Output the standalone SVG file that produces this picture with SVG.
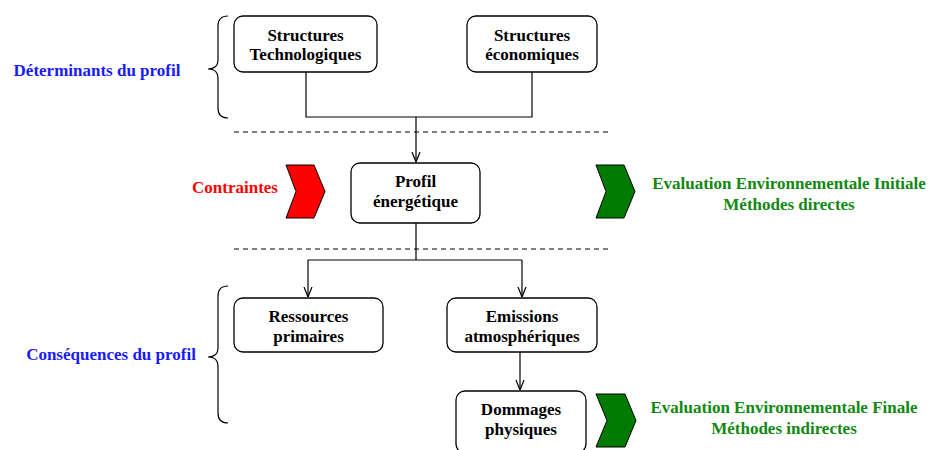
<svg xmlns="http://www.w3.org/2000/svg" width="930" height="450" viewBox="0 0 930 450">
<defs>
<style>
.box{fill:#fff;stroke:#000;stroke-width:1.3}
.t{font-family:"Liberation Serif","Times New Roman",serif;font-weight:bold;font-size:17px;text-anchor:middle}
.blk{fill:#000}
.blue{fill:#1a1aff}
.red{fill:#ff0000}
.green{fill:#118811}
.ln{fill:none;stroke:#000;stroke-width:1.2}
.dash{fill:none;stroke:#000;stroke-width:1;stroke-dasharray:5,4}
.chev{stroke:#000;stroke-width:1}
</style>
<marker id="arr" viewBox="0 0 10 10" refX="10" refY="5" markerWidth="10" markerHeight="10" markerUnits="userSpaceOnUse" orient="auto">
<path d="M0,1 L10,5 L0,9" fill="none" stroke="#000" stroke-width="1.2"/>
</marker>
</defs>
<rect width="930" height="450" fill="#fff"/>

<g id="connectors">
<path class="ln" d="M306,72 V117 H532 V72"/>
<path class="ln" d="M416,117 V162" marker-end="url(#arr)"/>
<path class="ln" d="M416,223 V260"/>
<path class="ln" d="M308,260 H522"/>
<path class="ln" d="M308,260 V297" marker-end="url(#arr)"/>
<path class="ln" d="M522,260 V297" marker-end="url(#arr)"/>
<path class="ln" d="M520,352 V390" marker-end="url(#arr)"/>
</g>

<g id="separators">
<line class="dash" x1="234" y1="132" x2="608" y2="132"/>
<line class="dash" x1="234" y1="249" x2="608" y2="249"/>
</g>

<g id="brace-top">
<path class="ln" d="M228,16 Q218,16 218,26 V60 Q218,69 208,69 Q218,69 218,78 V108 Q218,118 228,118"/>
</g>
<g id="label-determinants"><text class="t blue" x="97" y="76">Déterminants du profil</text></g>

<g id="brace-bottom">
<path class="ln" d="M228,286 Q218,286 218,296 V348 Q218,357 208,357 Q218,357 218,366 V413 Q218,423 228,423"/>
</g>
<g id="label-consequences"><text class="t blue" x="111" y="360">Conséquences du profil</text></g>

<g id="node-tech">
<rect class="box" x="234" y="16" width="143" height="56" rx="9"/>
<text class="t blk" x="305.5" y="41">Structures</text>
<text class="t blk" x="305.5" y="60">Technologiques</text>
</g>
<g id="node-eco">
<rect class="box" x="467" y="16" width="130" height="56" rx="9"/>
<text class="t blk" x="532" y="41">Structures</text>
<text class="t blk" x="532" y="60">économiques</text>
</g>
<g id="node-profil">
<rect class="box" x="351" y="163" width="129" height="60" rx="9"/>
<text class="t blk" x="415.5" y="187">Profil</text>
<text class="t blk" x="415.5" y="207">énergétique</text>
</g>
<g id="node-contraintes">
<text class="t red" x="235" y="193">Contraintes</text>
<polygon class="chev" fill="#ff0000" points="286,165 314,165 325,191.5 314,218 286,218 296,191.5"/>
</g>
<g id="node-eval-init">
<polygon class="chev" fill="#007a00" points="596,165 624,165 635,191.5 624,218 596,218 606,191.5"/>
<text class="t green" x="789" y="189">Evaluation Environnementale Initiale</text>
<text class="t green" x="789" y="210">Méthodes directes</text>
</g>
<g id="node-ressources">
<rect class="box" x="234" y="298" width="149" height="54" rx="9"/>
<text class="t blk" x="308.5" y="322">Ressources</text>
<text class="t blk" x="308.5" y="342">primaires</text>
</g>
<g id="node-emissions">
<rect class="box" x="447" y="298" width="150" height="54" rx="9"/>
<text class="t blk" x="522" y="322">Emissions</text>
<text class="t blk" x="522" y="342">atmosphériques</text>
</g>
<g id="node-dommages">
<rect class="box" x="456" y="391" width="130" height="62" rx="9"/>
<text class="t blk" x="521" y="415">Dommages</text>
<text class="t blk" x="521" y="435">physiques</text>
</g>
<g id="node-eval-fin">
<polygon class="chev" fill="#007a00" points="596,394 625,394 636,420.5 625,447 596,447 607,420.5"/>
<text class="t green" x="784" y="413">Evaluation Environnementale Finale</text>
<text class="t green" x="784" y="434">Méthodes indirectes</text>
</g>
</svg>
